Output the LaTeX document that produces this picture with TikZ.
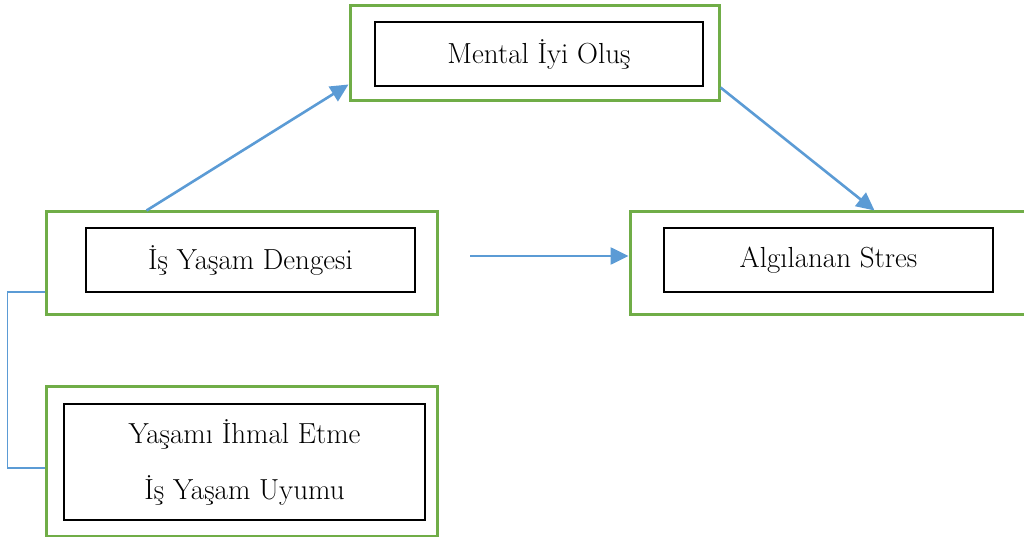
\documentclass[tikz,border=0pt]{standalone}
\usepackage{fontspec}
\usetikzlibrary{arrows.meta}
\definecolor{boxgreen}{HTML}{70AD47}
\definecolor{arrowblue}{HTML}{5B9BD5}
\begin{document}
\begin{tikzpicture}[x=1pt,y=-1pt,
  outerbox/.style={draw=boxgreen,line width=3pt,inner sep=0pt,rectangle},
  innerbox/.style={draw=black,line width=1.3pt,inner sep=0pt,rectangle,align=center,
    font=\fontsize{29}{56}\selectfont},
  conn/.style={draw=arrowblue,line width=2.6pt,-{Triangle[length=18pt,width=17pt]}},
  bracketline/.style={draw=arrowblue,line width=1.1pt}]
\useasboundingbox (0,0) rectangle (1024,537);
% outer green boxes
\node[outerbox,minimum width=369pt,minimum height=95pt] (g1) at (534.5,53.5) {};
\node[outerbox,minimum width=391pt,minimum height=102pt] (g2) at (241.5,263) {};
\node[outerbox,minimum width=400pt,minimum height=102pt] (g3) at (830,263) {};
\node[outerbox,minimum width=391pt,minimum height=150pt] (g4) at (241.5,461) {};
% inner boxes with text
\node[innerbox,minimum width=328pt,minimum height=64pt] (i1) at (539,54) {Mental İyi Oluş};
\node[innerbox,minimum width=329pt,minimum height=64pt] (i2) at (250.5,260) {İş Yaşam Dengesi};
\node[innerbox,minimum width=329pt,minimum height=64pt] (i3) at (828.5,260) {Algılanan Stres};
\node[innerbox,minimum width=361pt,minimum height=116pt] (i4) at (244.5,462) {Yaşamı İhmal Etme\\İş Yaşam Uyumu};
% connectors
\coordinate (a3) at (470,256);
\draw[conn] ([xshift=102pt]g2.north west) -- ([yshift=-80pt]g1.north west);
\draw[conn] ([yshift=15pt]g1.south east) -- ([xshift=246pt]g3.north west);
\draw[conn] (a3) -- (g3.west |- a3);
\draw[bracketline] ([yshift=-29pt]g2.west) -- ++(-37pt,0) |- ([yshift=-7pt]g4.west);
\end{tikzpicture}
\end{document}
